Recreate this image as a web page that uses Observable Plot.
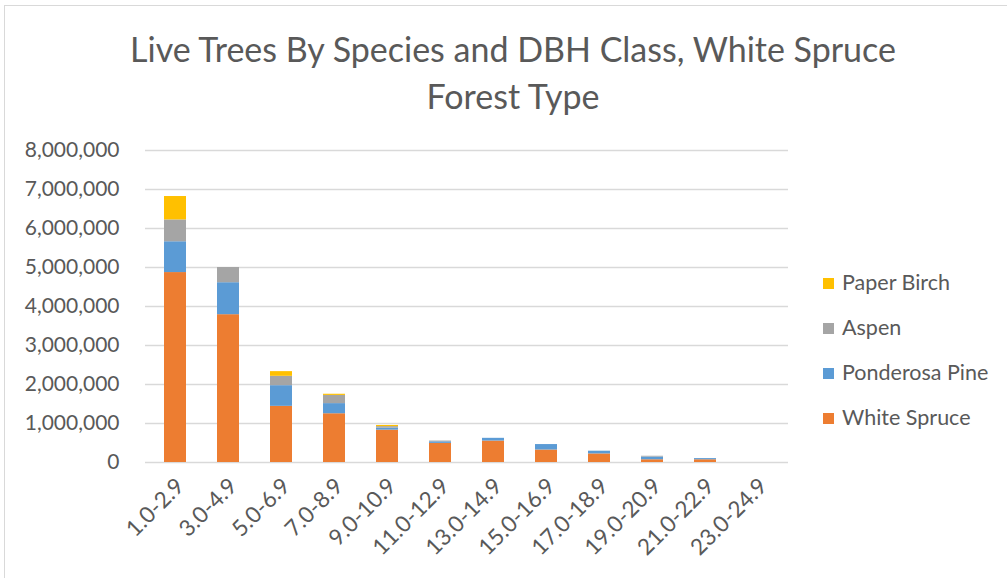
<!DOCTYPE html>
<html>
<head>
<meta charset="utf-8">
<script src="https://cdn.jsdelivr.net/npm/d3@7"></script>
<script src="https://cdn.jsdelivr.net/npm/@observablehq/plot@0.6"></script>
<style>
  html, body { margin: 0; padding: 0; background: #fff; }
  #wrap { position: relative; width: 1007px; height: 578px; overflow: hidden; font-family: Lato, "Open Sans", sans-serif; }
  #frame { position: absolute; left: 4px; top: 5px; width: 1100px; height: 700px; border: 1.5px solid #d9d9d9; box-sizing: border-box; }
  #title { position: absolute; left: 0; width: 1026px; top: 25px; text-align: center; color: #595959; font-size: 34px; line-height: 47px; }
  #legend { position: absolute; left: 823px; top: 268px; color: #595959; font-size: 21.5px; }
  .li { position: absolute; left: 0; white-space: nowrap; height: 28px; line-height: 28px; }
  .sw { display: inline-block; width: 11px; height: 11px; margin-right: 8px; vertical-align: 1px; }
  #chart { position: absolute; left: 0; top: 0; }
</style>
</head>
<body>
<div id="wrap">
  <div id="frame"></div>
  <div id="chart"></div>
  <div id="title">Live Trees By Species and DBH Class, White Spruce<br>Forest Type</div>
  <div id="legend"></div>
</div>
<script>
const categories = ["1.0-2.9","3.0-4.9","5.0-6.9","7.0-8.9","9.0-10.9","11.0-12.9","13.0-14.9","15.0-16.9","17.0-18.9","19.0-20.9","21.0-22.9","23.0-24.9"];
const species = ["White Spruce","Ponderosa Pine","Aspen","Paper Birch"];
const colors = ["#ed7d31","#5b9bd5","#a5a5a5","#ffc000"];
const whiteSpruce   = [4870000,3790000,1440000,1250000,830000,490000,550000,320000,220000,70000,70000,0];
const ponderosaPine = [790000,820000,530000,260000,50000,40000,70000,140000,70000,70000,30000,0];
const aspen         = [560000,390000,240000,210000,40000,20000,0,0,0,20000,0,0];
const paperBirch    = [600000,0,120000,30000,30000,0,0,0,0,0,0,0];
const yTicks = [0,1000000,2000000,3000000,4000000,5000000,6000000,7000000,8000000];

const series = [whiteSpruce, ponderosaPine, aspen, paperBirch];
const data = categories.flatMap((c, i) => species.map((s, j) => ({cls: c, species: s, value: series[j][i]})));

const chart = Plot.plot({
  width: 1007,
  height: 578,
  marginLeft: 145,
  marginRight: 219,
  marginTop: 150,
  marginBottom: 116,
  style: {fontFamily: "Lato, 'Open Sans', sans-serif", fontSize: "17px", color: "#595959", background: "transparent"},
  x: {domain: categories, paddingInner: 0.59, paddingOuter: 0.29, label: null},
  y: {domain: [0, 8000000], label: null},
  color: {domain: species, range: colors},
  marks: [
    Plot.ruleY(yTicks, {stroke: "#d9d9d9", strokeWidth: 1.5}),
    Plot.barY(data, {x: "cls", y: "value", fill: "species", order: species}),
    Plot.axisY({ticks: yTicks, tickFormat: d3.format(","), tickSize: 0, tickPadding: 26, label: null, fill: "#595959", fontSize: 21}),
    Plot.axisX({tickRotate: -45, tickSize: 0, tickPadding: 20, dx: 5, label: null, fill: "#595959", fontSize: 22.5})
  ]
});
document.getElementById("chart").appendChild(chart);

const legend = document.getElementById("legend");
const order = [3, 2, 1, 0];
order.forEach((j, k) => {
  const d = document.createElement("div");
  d.className = "li";
  d.style.top = (k * 45) + "px";
  d.innerHTML = `<span class="sw" style="background:${colors[j]}"></span>${species[j]}`;
  legend.appendChild(d);
});
</script>
</body>
</html>
